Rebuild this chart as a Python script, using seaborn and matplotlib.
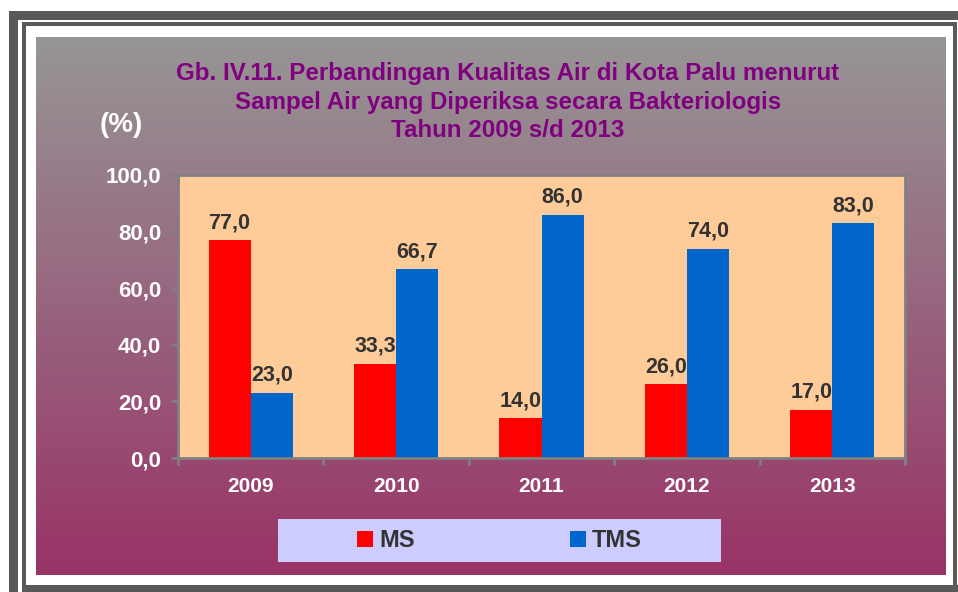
import matplotlib
matplotlib.use('Agg')
import matplotlib.pyplot as plt
from matplotlib.patches import Rectangle
import numpy as np
import pandas as pd
import seaborn as sns

tahun = ['2009', '2010', '2011', '2012', '2013']
ms = [77.0, 33.3, 14.0, 26.0, 17.0]
tms = [23.0, 66.7, 86.0, 74.0, 83.0]
seri = ['MS', 'TMS']
warna = ['#FF0000', '#0066CC']
y_ticks = [0, 20, 40, 60, 80, 100]

judul = ('Gb. IV.11. Perbandingan Kualitas Air di Kota Palu menurut\n'
         'Sampel Air yang Diperiksa secara Bakteriologis\n'
         'Tahun 2009 s/d 2013')


def koma(v):
    # decimal comma, Indonesian style
    return f'{v:.1f}'.replace('.', ',')


df = pd.DataFrame({
    'Tahun': tahun * 2,
    'Jenis': ['MS'] * len(tahun) + ['TMS'] * len(tahun),
    'Persen': ms + tms,
})

sns.set_style('white')
plt.rcParams['font.family'] = ['Liberation Sans', 'DejaVu Sans']

W, H = 958, 592
fig = plt.figure(figsize=(W / 100, H / 100), dpi=100)

# frame + gradient background, drawn in pixel coords
bg = fig.add_axes([0, 0, 1, 1])
bg.axis('off')
top = np.array([150, 150, 150]) / 255
bot = np.array([153, 51, 102]) / 255
t = np.linspace(0, 1, 256)[:, None, None]
grad = top + (bot - top) * t
bg.imshow(grad, extent=[36, 946, 575, 37], aspect='auto')
frame = '#595959'
for x, y, w, h in [(9, 11, W - 9, 9), (9, 11, 9, H - 11),
                   (22, 22, 935, 4), (22, 22, 4, H - 22),
                   (953, 22, 4, H - 22), (22, 585, W - 22, 7)]:
    bg.add_patch(Rectangle((x, y), w, h, color=frame, lw=0))
bg.add_patch(Rectangle((278, 519), 443, 43, color='#CCCCFF', lw=0))
bg.set_xlim(0, W)
bg.set_ylim(H, 0)

# main chart
ax = fig.add_axes([178 / W, 1 - 458 / H, (905 - 178) / W, (458 - 175) / H])
ax.set_facecolor('#FFCC99')
sns.barplot(data=df, x='Tahun', y='Persen', hue='Jenis', order=tahun,
            hue_order=seri, palette=warna, width=0.58, saturation=1,
            errorbar=None, linewidth=0, ax=ax)

for cont, vals in zip(ax.containers, [ms, tms]):
    ax.bar_label(cont, labels=[koma(v) for v in vals], padding=5,
                 color='#333333', fontsize=15.5, fontweight='bold')

ax.set_ylim(0, 100)
ax.set_xlim(-0.5, 4.5)
ax.set_yticks(y_ticks, [koma(v) for v in y_ticks])
ax.set_xticks(range(len(tahun)), tahun)
ax.set_xticks(np.arange(-0.5, len(tahun), 1), minor=True)
ax.tick_params(axis='x', which='major', bottom=True, length=0, pad=14,
               labelcolor='white', labelsize=15)
ax.tick_params(axis='x', which='minor', bottom=True, length=5, width=2,
               color='#808080', direction='out')
ax.tick_params(axis='y', left=True, length=5, width=2, color='#808080',
               direction='out', pad=7, labelcolor='white', labelsize=16)
for lab in ax.get_xticklabels() + ax.get_yticklabels():
    lab.set_fontweight('bold')
ax.set_xlabel('')
ax.set_ylabel('')
for s in ax.spines.values():
    s.set_visible(True)
    s.set_color('#808080')
    s.set_linewidth(2)

sns.move_legend(ax, 'center', bbox_to_anchor=(499.5 / W, 1 - 540.5 / H),
                bbox_transform=fig.transFigure, ncol=2, frameon=False,
                title=None, columnspacing=6.6, handlelength=0.68,
                handleheight=0.68, handletextpad=0.25, labelcolor='#333333',
                prop={'weight': 'bold', 'size': 17})

fig.text(508 / W, 1 - 102 / H, judul, ha='center', va='center',
         color='#800080', fontsize=17.4, fontweight='bold', linespacing=1.32)
fig.text(121 / W, 1 - 125 / H, '(%)', ha='center', va='center',
         color='white', fontsize=20, fontweight='bold')

fig.savefig('out.png', dpi=100)
